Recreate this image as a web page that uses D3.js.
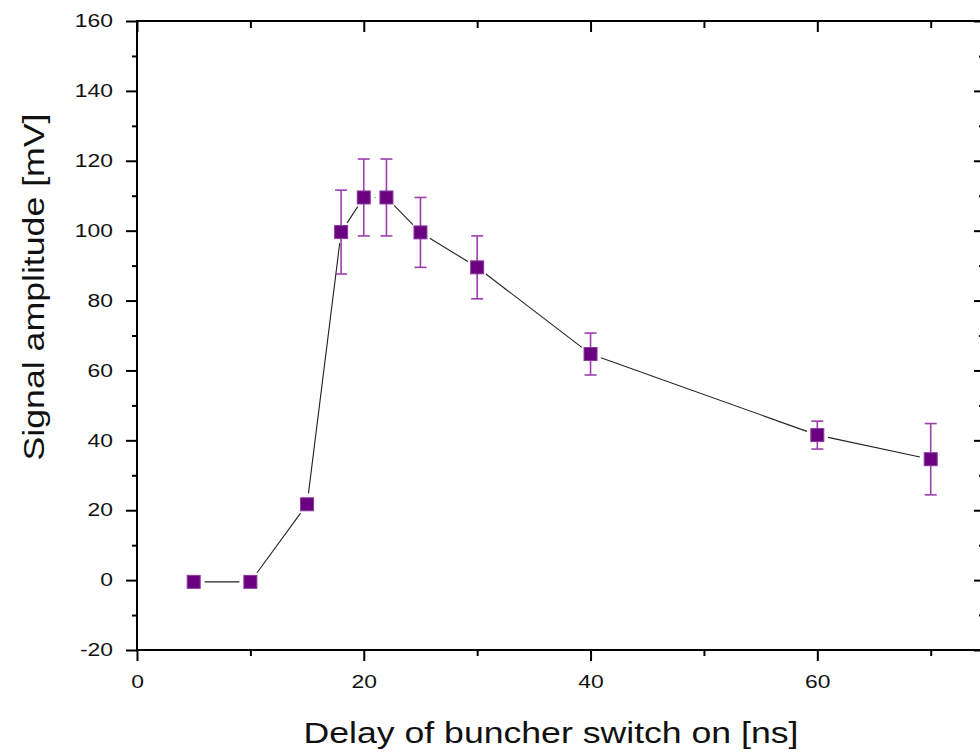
<!DOCTYPE html>
<html><head><meta charset="utf-8">
<script src="https://cdn.jsdelivr.net/npm/d3@7"></script>
<style>body{margin:0;background:#fff}svg{display:block}</style>
</head><body>
<script>
const delays = [5, 10, 15, 18, 20, 22, 25, 30, 40, 60, 70];
const amplitudes = [-0.5, -0.5, 21.7, 99.6, 109.5, 109.5, 99.5, 89.5, 64.7, 41.5, 34.6];
const errors = [0, 0, 0, 12, 11, 11, 10, 9, 6, 4, 10.2];
const xTicks = [0, 20, 40, 60];
const yTicks = [-20, 0, 20, 40, 60, 80, 100, 120, 140, 160];
const xTitle = "Delay of buncher switch on [ns]";
const yTitle = "Signal amplitude [mV]";

const W = 980, H = 754;
const svg = d3.select("body").append("svg").attr("width", W).attr("height", H);
const L = 137, R = 984, T = 21, B = 650;
const x = d3.scaleLinear().domain([0, 74.7]).range([L, R]);
const y = d3.scaleLinear().domain([-20, 160]).range([B, T]);

const font = "Liberation Sans, Arial, sans-serif";
const xMinor = d3.range(10, 75, 20);
const yMinor = d3.range(-10, 160, 20);
const stretch = 1.27;

function styleAxis(g) {
  g.select(".domain").remove();
  g.selectAll("line").attr("stroke", "#000").attr("stroke-width", 2);
  g.selectAll("text").attr("font-family", font).attr("font-size", 18).attr("fill", "#111")
    .each(function () {
      const w = this.getComputedTextLength();
      if (w > 0) d3.select(this).attr("textLength", w * stretch).attr("lengthAdjust", "spacingAndGlyphs");
    });
}
const fmt = d => String(d);
// bottom
svg.append("g").attr("transform", `translate(0,${B})`)
  .call(d3.axisBottom(x).tickValues(xTicks).tickSize(11).tickPadding(14).tickFormat(fmt)).call(styleAxis);
svg.append("g").attr("transform", `translate(0,${B})`)
  .call(d3.axisBottom(x).tickValues(xMinor).tickSize(6).tickFormat("")).call(styleAxis);
// top
svg.append("g").attr("transform", `translate(0,${T})`)
  .call(d3.axisBottom(x).tickValues(xTicks).tickSize(11).tickFormat("")).call(styleAxis);
svg.append("g").attr("transform", `translate(0,${T})`)
  .call(d3.axisBottom(x).tickValues(xMinor).tickSize(7).tickFormat("")).call(styleAxis);
// left
svg.append("g").attr("transform", `translate(${L},0)`)
  .call(d3.axisLeft(y).tickValues(yTicks).tickSize(11).tickPadding(13).tickFormat(fmt)).call(styleAxis);
svg.append("g").attr("transform", `translate(${L},0)`)
  .call(d3.axisLeft(y).tickValues(yMinor).tickSize(5).tickFormat("")).call(styleAxis);
// right
svg.append("g").attr("transform", `translate(${R},0)`)
  .call(d3.axisLeft(y).tickValues(yTicks).tickSize(10).tickFormat("")).call(styleAxis);
svg.append("g").attr("transform", `translate(${R},0)`)
  .call(d3.axisLeft(y).tickValues(yMinor).tickSize(5).tickFormat("")).call(styleAxis);

// frame
svg.append("rect").attr("x", L).attr("y", T).attr("width", R - L).attr("height", B - T)
  .attr("fill", "none").attr("stroke", "#000").attr("stroke-width", 2);

const pts = delays.map((d, i) => ({ x: d, y: amplitudes[i], e: errors[i] }));

// connecting line with gaps around markers
const gap = 11;
const segs = [];
for (let i = 0; i < pts.length - 1; i++) {
  const x1 = x(pts[i].x), y1 = y(pts[i].y), x2 = x(pts[i + 1].x), y2 = y(pts[i + 1].y);
  const dx = x2 - x1, dy = y2 - y1, len = Math.hypot(dx, dy);
  if (len > 2 * gap) {
    const ux = dx / len, uy = dy / len;
    segs.push([x1 + ux * gap, y1 + uy * gap, x2 - ux * gap, y2 - uy * gap]);
  }
}
svg.append("g").selectAll("line").data(segs).join("line")
  .attr("x1", d => d[0]).attr("y1", d => d[1]).attr("x2", d => d[2]).attr("y2", d => d[3])
  .attr("stroke", "#222").attr("stroke-width", 1.1);

// error bars
const eb = svg.append("g").attr("stroke", "#9b3fae").attr("stroke-width", 1.6);
const withErr = pts.filter(p => p.e > 0);
eb.selectAll("line.v").data(withErr).join("line").attr("class", "v")
  .attr("x1", d => x(d.x)).attr("x2", d => x(d.x))
  .attr("y1", d => y(d.y + d.e)).attr("y2", d => y(d.y - d.e));
eb.selectAll("line.t").data(withErr).join("line").attr("class", "t")
  .attr("x1", d => x(d.x) - 6).attr("x2", d => x(d.x) + 6)
  .attr("y1", d => y(d.y + d.e)).attr("y2", d => y(d.y + d.e));
eb.selectAll("line.b").data(withErr).join("line").attr("class", "b")
  .attr("x1", d => x(d.x) - 6).attr("x2", d => x(d.x) + 6)
  .attr("y1", d => y(d.y - d.e)).attr("y2", d => y(d.y - d.e));

// markers
const s = 13;
svg.append("g").selectAll("rect").data(pts).join("rect")
  .attr("x", d => x(d.x) - s / 2).attr("y", d => y(d.y) - s / 2)
  .attr("width", s).attr("height", s)
  .attr("fill", "#6a0080").attr("stroke", "#8a3a9e").attr("stroke-width", 1);

// titles
svg.append("text").attr("x", 551).attr("y", 743).attr("text-anchor", "middle")
  .attr("font-family", font).attr("font-size", 30).attr("fill", "#111")
  .attr("textLength", 495).attr("lengthAdjust", "spacingAndGlyphs").text(xTitle);
svg.append("text").attr("transform", "translate(44,287) rotate(-90)").attr("text-anchor", "middle")
  .attr("font-family", font).attr("font-size", 30).attr("fill", "#111")
  .attr("textLength", 347).attr("lengthAdjust", "spacingAndGlyphs").text(yTitle);
</script>
</body></html>
